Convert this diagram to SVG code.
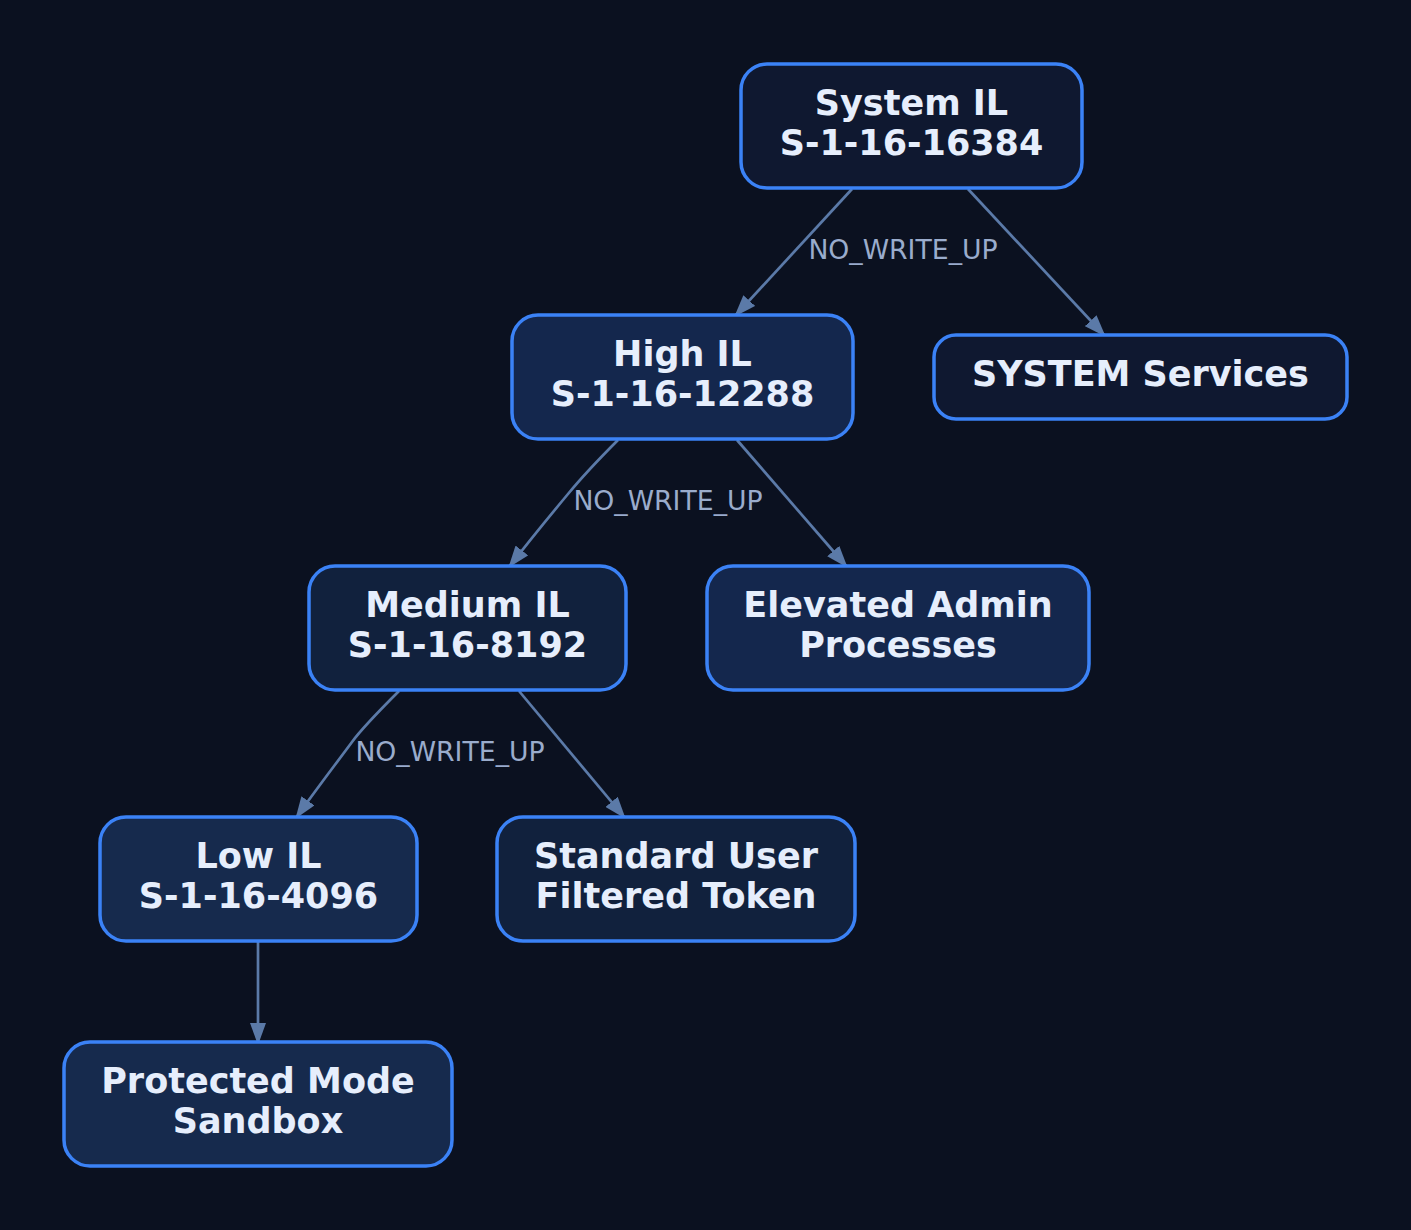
<svg xmlns="http://www.w3.org/2000/svg" width="1411" height="1230" viewBox="0 0 1411 1230">
<defs>
<style>
.node rect{stroke:#3b82f6;stroke-width:3.5}
.lbl{font-family:"DejaVu Sans",sans-serif;font-weight:bold;font-size:35px;fill:#e6eefc;text-anchor:middle}
.edge{fill:none;stroke:#5b7aa8;stroke-width:2.7}
.elbl{font-family:"DejaVu Sans",sans-serif;font-size:26.7px;fill:#9aaccc;text-anchor:middle}
.n0{fill:#0f1830}.n1{fill:#14274d}.n2{fill:#11213d}.n3{fill:#162a4d}
</style>
<marker id="arr" viewBox="0 0 22 16" refX="21" refY="8" markerWidth="22" markerHeight="16" markerUnits="userSpaceOnUse" orient="auto">
<path d="M0,0 L22,8 L0,16 z" fill="#5b7aa8"/>
</marker>
</defs>
<rect width="1411" height="1230" fill="#0b1120"/>
<g id="edges">
<path class="edge" d="M852,189 L735,316" marker-end="url(#arr)"/>
<path class="edge" d="M968,189 L1105,336" marker-end="url(#arr)"/>
<path class="edge" d="M618,440 C600,458 582,477 568,494 C553,512 530,540 509,567" marker-end="url(#arr)"/>
<path class="edge" d="M737,440 L847,567" marker-end="url(#arr)"/>
<path class="edge" d="M399,691 C380,710 362,728 352,742 C335,765 312,795 296,818" marker-end="url(#arr)"/>
<path class="edge" d="M519,691 L625,818" marker-end="url(#arr)"/>
<path class="edge" d="M258,942 L258,1044" marker-end="url(#arr)"/>
<text class="elbl" x="903" y="259">NO_WRITE_UP</text>
<text class="elbl" x="668" y="510">NO_WRITE_UP</text>
<text class="elbl" x="450" y="761">NO_WRITE_UP</text>
</g>
<g id="system_il" class="node">
<rect class="n0" x="741" y="64" width="341" height="124" rx="26"/>
<text class="lbl" x="911.5" y="115">System IL</text>
<text class="lbl" x="911.5" y="155">S-1-16-16384</text>
</g>
<g id="high_il" class="node">
<rect class="n1" x="512" y="315" width="341" height="124" rx="26"/>
<text class="lbl" x="682.5" y="366">High IL</text>
<text class="lbl" x="682.5" y="406">S-1-16-12288</text>
</g>
<g id="system_services" class="node">
<rect class="n0" x="934" y="335" width="413" height="84" rx="22"/>
<text class="lbl" x="1140.5" y="386">SYSTEM Services</text>
</g>
<g id="medium_il" class="node">
<rect class="n2" x="309" y="566" width="317" height="124" rx="26"/>
<text class="lbl" x="467.5" y="617">Medium IL</text>
<text class="lbl" x="467.5" y="657">S-1-16-8192</text>
</g>
<g id="elevated_admin" class="node">
<rect class="n1" x="707" y="566" width="382" height="124" rx="26"/>
<text class="lbl" x="898" y="617">Elevated Admin</text>
<text class="lbl" x="898" y="657">Processes</text>
</g>
<g id="low_il" class="node">
<rect class="n3" x="100" y="817" width="317" height="124" rx="26"/>
<text class="lbl" x="258.5" y="868">Low IL</text>
<text class="lbl" x="258.5" y="908">S-1-16-4096</text>
</g>
<g id="standard_user" class="node">
<rect class="n2" x="497" y="817" width="358" height="124" rx="26"/>
<text class="lbl" x="676" y="868">Standard User</text>
<text class="lbl" x="676" y="908">Filtered Token</text>
</g>
<g id="protected_mode" class="node">
<rect class="n3" x="64" y="1042" width="388" height="124" rx="26"/>
<text class="lbl" x="258" y="1093">Protected Mode</text>
<text class="lbl" x="258" y="1133">Sandbox</text>
</g>
</svg>
